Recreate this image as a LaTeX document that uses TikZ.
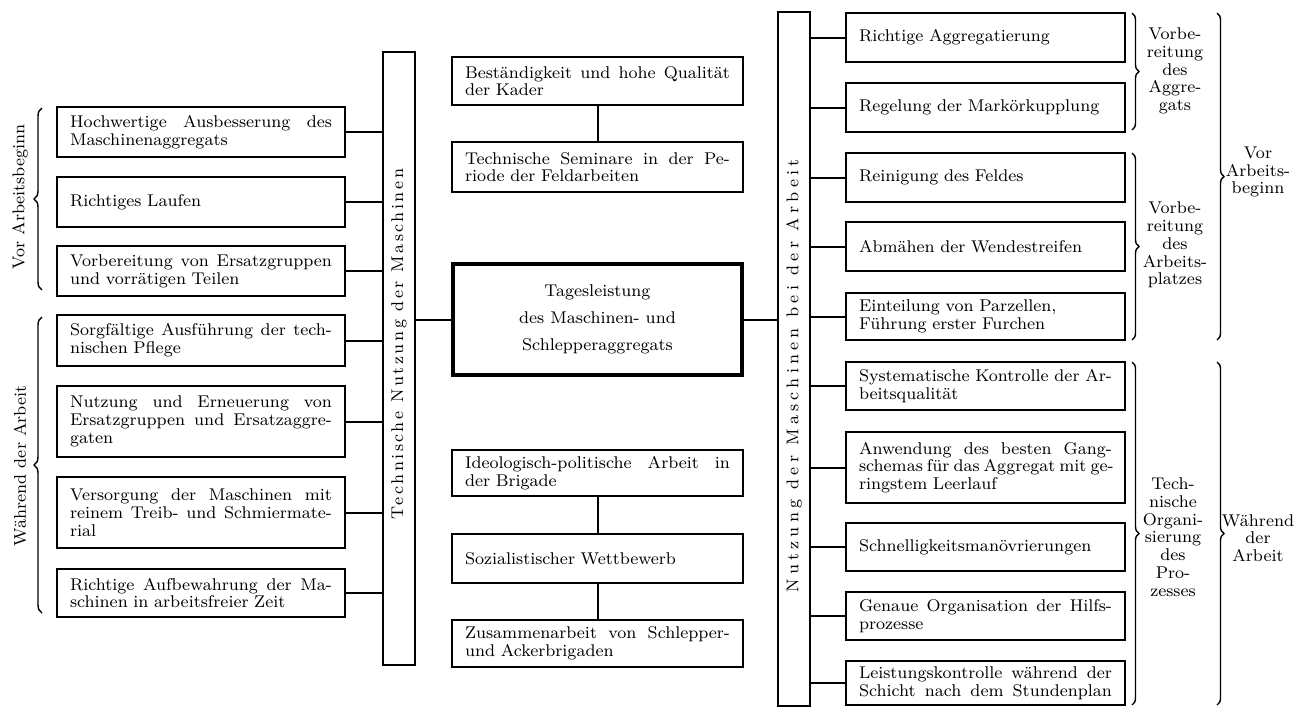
\documentclass[tikz,border=0pt]{standalone}
\usepackage{fontspec}
\setmainfont{Latin Modern Roman}
\usepackage{graphicx}
\usetikzlibrary{decorations.pathreplacing}

\newcommand{\boxfont}{\fontsize{8.5}{8.9}\selectfont}
\newlength{\flw}
\newcommand{\fl}[1]{\makebox[\flw][s]{\spaceskip=0pt\xspaceskip=0pt\relax #1}}

\tikzset{
  box/.style={draw, line width=1pt, inner xsep=6.5pt, inner ysep=2pt, align=left, font=\boxfont},
  lbox/.style={box, text width=131pt, execute at begin node={\setlength{\flw}{131pt}}},
  cbox/.style={box, text width=132.5pt, execute at begin node={\setlength{\flw}{132.5pt}}},
  rbox/.style={box, text width=126.5pt, execute at begin node={\setlength{\flw}{126.5pt}}},
  bar/.style={draw, line width=1pt, minimum width=16pt, inner sep=0pt, font=\boxfont},
  link/.style={line width=1pt},
  brc/.style={decorate, decoration={brace, amplitude=#1}, line width=0.7pt},
  brc/.default=4pt,
  brclabel/.style={align=center, font=\boxfont},
}

\begin{document}
\begin{tikzpicture}[x=0.5pt, y=-0.5pt]
    \useasboundingbox (0,0) rectangle (1314,707);

    % left column
    \node[lbox, minimum height=25pt] (ausb) at (201,132) {\fl{Hochwertige Ausbesserung des}\\Maschinenaggregats};
    \node[lbox, minimum height=25pt] (lauf) at (201,202) {Richtiges Laufen};
    \node[lbox, minimum height=25pt] (ersatz) at (201,271) {\fl{Vorbereitung von Ersatzgruppen}\\und vorrätigen Teilen};
    \node[lbox, minimum height=25.5pt] (pflege) at (201,340.5) {\fl{Sorgfältige Ausführung der tech-}\\nischen Pflege};
    \node[lbox, minimum height=35.5pt] (erneu) at (201,421.5) {\fl{Nutzung und Erneuerung von}\\\fl{Ersatzgruppen und Ersatzaggre-}\\gaten};
    \node[lbox, minimum height=35.5pt] (versorg) at (201,512.5) {\fl{Versorgung der Maschinen mit}\\\fl{reinem Treib- und Schmiermate-}\\rial};
    \node[lbox, minimum height=24pt] (aufbew) at (201,593) {\fl{Richtige Aufbewahrung der Ma-}\\schinen in arbeitsfreier Zeit};

    % left braces
    \draw[brc] (42,290) -- (42,108);
    \node[rotate=90, font=\boxfont] (lvor) at (20,197) {Vor Arbeitsbeginn};
    \draw[brc] (42,613) -- (42,317);
    \node[rotate=90, font=\boxfont] (lwae) at (20,466) {Während der Arbeit};

    % vertical bars
    \node[bar, minimum height=306.5pt] (tnm) at (399,358.5)
        {\rotatebox{90}{\hspace{14.5pt}\addfontfeature{LetterSpace=15}Technische Nutzung der Maschinen}};
    \node[bar, minimum height=347pt] (nmb) at (794,359)
        {\rotatebox{90}{\addfontfeature{LetterSpace=25}Nutzung der Maschinen bei der Arbeit\hspace{17pt}}};

    % center column
    \node[cbox, minimum height=24pt] (kader) at (597.5,81) {\fl{Beständigkeit und hohe Qualität}\\der Kader};
    \node[cbox, minimum height=25pt] (seminar) at (597.5,167) {\fl{Technische Seminare in der Pe-}\\riode der Feldarbeiten};
    \node[draw, line width=2pt, minimum width=144.5pt, minimum height=55.5pt, align=center,
          font=\fontsize{8.5}{13.5}\selectfont] (tag) at (597.5,319.5) {Tagesleistung\\des Maschinen- und\\Schlepperaggregats};
    \node[cbox, minimum height=23pt] (ideo) at (597.5,473) {\fl{Ideologisch-politische Arbeit in}\\der Brigade};
    \node[cbox, minimum height=24.5pt] (wettb) at (597.5,558.5) {Sozialistischer Wettbewerb};
    \node[cbox, minimum height=23.5pt] (zusam) at (597.5,643.5) {\fl{Zusammenarbeit von Schlepper-}\\und Ackerbrigaden};

    % right column
    \node[rbox, minimum height=24.5pt] (aggr) at (985.5,37.5) {Richtige Aggregatierung};
    \node[rbox, minimum height=24.5pt] (mark) at (985.5,107.5) {Regelung der Markörkupplung};
    \node[rbox, minimum height=24.5pt] (feld) at (985.5,177.5) {Reinigung des Feldes};
    \node[rbox, minimum height=24.5pt] (wende) at (985.5,246.5) {Abmähen der Wendestreifen};
    \node[rbox, minimum height=23.5pt] (parz) at (985.5,316.5) {Einteilung von Parzellen,\\Führung erster Furchen};
    \node[rbox, minimum height=24pt] (kontr) at (985.5,386) {\fl{Systematische Kontrolle der Ar-}\\beitsqualität};
    \node[rbox, minimum height=35.5pt] (gang) at (985.5,467.5) {\fl{Anwendung des besten Gang-}\\\fl{schemas für das Aggregat mit ge-}\\ringstem Leerlauf};
    \node[rbox, minimum height=24pt] (manoe) at (985.5,547) {Schnelligkeitsmanövrierungen};
    \node[rbox, minimum height=24pt] (hilfs) at (985.5,616) {\fl{Genaue Organisation der Hilfs-}\\prozesse};
    \node[rbox, minimum height=22pt] (leist) at (985.5,683) {\fl{Leistungskontrolle während der}\\\fl{Schicht nach dem Stundenplan}};

    % right braces
    \draw[brc=3.5pt] (1132,13) -- (1132,130);
    \node[brclabel] (vagg) at (1175,71) {Vorbe-\\reitung\\des\\Aggre-\\gats};
    \draw[brc=3.5pt] (1132,153) -- (1132,340);
    \node[brclabel] (vplatz) at (1175,245) {Vorbe-\\reitung\\des\\Arbeits-\\platzes};
    \draw[brc=3.5pt] (1132,362) -- (1132,705);
    \node[brclabel] (torg) at (1173,537) {Tech-\\nische\\Organi-\\sierung\\des\\Pro-\\zesses};
    \draw[brc=3.5pt] (1217,13) -- (1217,340);
    \node[brclabel] (rvor) at (1258,172) {Vor\\Arbeits-\\beginn};
    \draw[brc=3.5pt] (1217,362) -- (1217,705);
    \node[brclabel] (rwae) at (1258,538) {Während\\der\\Arbeit};

    % connectors
    \foreach \n in {ausb,lauf,ersatz,pflege,erneu,versorg,aufbew}
        \draw[link] (\n.east) -- (\n.east -| tnm.west);
    \foreach \n in {aggr,mark,feld,wende,parz,kontr,gang,manoe,hilfs,leist}
        \draw[link] (\n.west) -- (\n.west -| nmb.east);
    \draw[link] (tnm.east |- tag.west) -- (tag.west);
    \draw[link] (tag.east) -- (tag.east -| nmb.west);
    \draw[link] (kader) -- (seminar);
    \draw[link] (ideo) -- (wettb);
    \draw[link] (wettb) -- (zusam);
\end{tikzpicture}
\end{document}
